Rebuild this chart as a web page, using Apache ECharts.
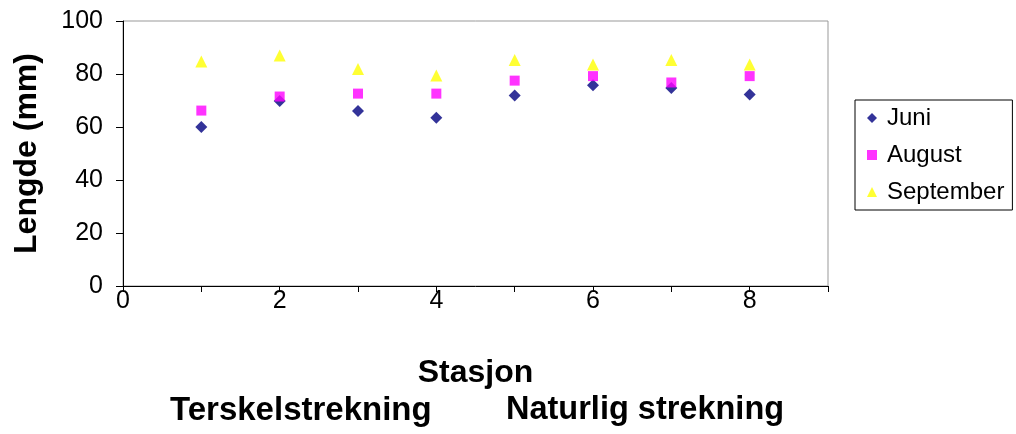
<!DOCTYPE html>
<html>
<head>
<meta charset="utf-8">
<script src="https://cdn.jsdelivr.net/npm/echarts@6/dist/echarts.min.js"></script>
<style>
  html, body { margin: 0; padding: 0; background: #fff; }
  #chart { width: 1016px; height: 434px; }
</style>
</head>
<body>
<div id="chart"></div>
<script>
// stasjon nr. and mean length per month
const stations = [1, 2, 3, 4, 5, 6, 7, 8];
const juni = [60.0, 69.8, 66.0, 63.5, 71.9, 75.8, 74.7, 72.3];
const august = [66.2, 71.5, 72.6, 72.6, 77.5, 79.2, 76.8, 79.2];
const september = [84.7, 87.0, 81.9, 79.4, 85.3, 83.6, 85.3, 83.6];

const fontFam = 'Liberation Sans, Arial, sans-serif';

function pairs(vals) {
  return stations.map((s, i) => [s, vals[i]]);
}

const chart = echarts.init(document.getElementById('chart'));
chart.setOption({
  animation: false,
  grid: {
    left: 123, right: 188, top: 21, bottom: 148,
    show: true, borderColor: '#999', borderWidth: 1, backgroundColor: '#fff'
  },
  legend: {
    orient: 'vertical',
    left: 855, top: 100,
    borderColor: '#000', borderWidth: 1,
    padding: [6, 8, 6, 12],
    itemGap: 13,
    itemWidth: 10, itemHeight: 10,
    textStyle: { fontFamily: fontFam, fontSize: 24, color: '#000', padding: [0, 0, 0, 5] },
    data: [
      { name: 'Juni', icon: 'diamond' },
      { name: 'August', icon: 'rect' },
      { name: 'September', icon: 'triangle' }
    ]
  },
  xAxis: {
    type: 'value',
    min: 0, max: 9, interval: 1,
    name: 'Stasjon',
    nameLocation: 'middle',
    nameGap: 71,
    nameTextStyle: { fontFamily: fontFam, fontSize: 32, fontWeight: 'bold', color: '#000' },
    splitLine: { show: false },
    axisLine: { show: true, lineStyle: { color: '#000', width: 1 } },
    axisTick: { show: true, inside: false, length: 6, lineStyle: { color: '#000' } },
    axisLabel: {
      fontFamily: fontFam, fontSize: 25, color: '#000', margin: 3,
      formatter: v => (v % 2 === 0 ? String(v) : '')
    }
  },
  yAxis: {
    type: 'value',
    min: 0, max: 100, interval: 20,
    name: 'Lengde (mm)',
    nameLocation: 'middle',
    nameGap: 80,
    nameTextStyle: { fontFamily: fontFam, fontSize: 32, fontWeight: 'bold', color: '#000' },
    splitLine: { show: false },
    axisLine: { show: true, lineStyle: { color: '#000', width: 1 } },
    axisTick: { show: true, inside: false, length: 7, lineStyle: { color: '#000' } },
    axisLabel: { fontFamily: fontFam, fontSize: 25, color: '#000', margin: 20 }
  },
  graphic: [
    {
      type: 'text', left: 170, top: 394,
      style: { text: 'Terskelstrekning', fontFamily: fontFam, fontSize: 33, fontWeight: 'bold', fill: '#000' }
    },
    {
      type: 'text', left: 506, top: 394,
      style: { text: 'Naturlig strekning', fontFamily: fontFam, fontSize: 32.5, fontWeight: 'bold', fill: '#000' }
    }
  ],
  series: [
    {
      name: 'Juni', type: 'scatter', symbol: 'diamond', symbolSize: 12,
      itemStyle: { color: '#000080' }, data: pairs(juni)
    },
    {
      name: 'August', type: 'scatter', symbol: 'rect', symbolSize: 10,
      itemStyle: { color: '#FF00FF' }, data: pairs(august)
    },
    {
      name: 'September', type: 'scatter', symbol: 'triangle', symbolSize: 12,
      itemStyle: { color: '#FFFF00' }, data: pairs(september)
    }
  ]
});
</script>
</body>
</html>
